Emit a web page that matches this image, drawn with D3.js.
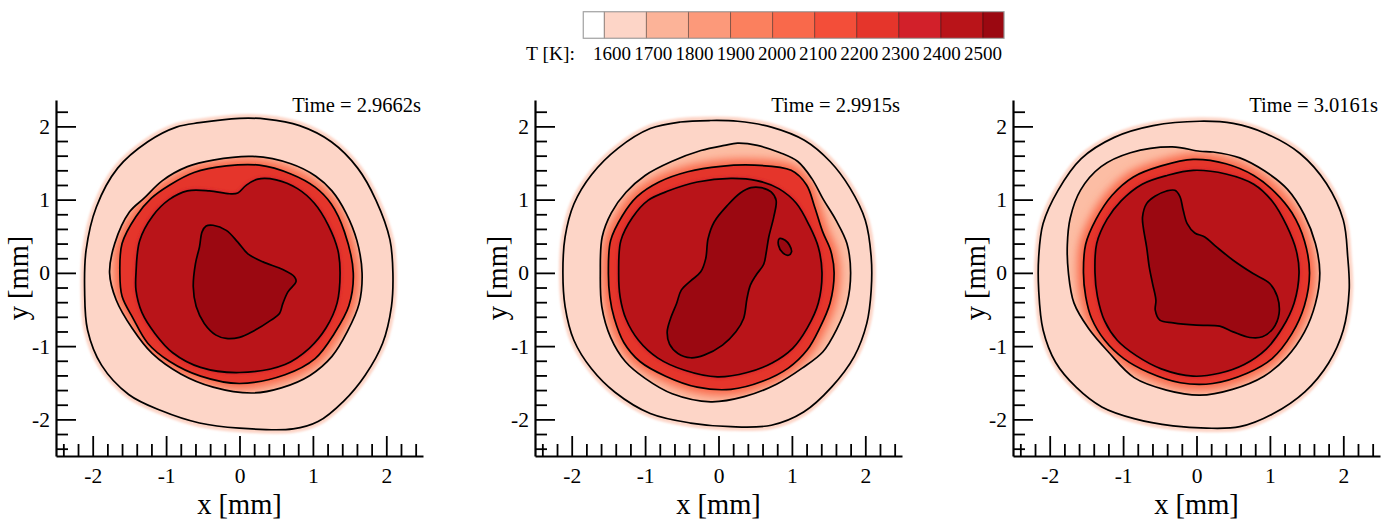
<!DOCTYPE html>
<html><head><meta charset="utf-8">
<script src="https://cdn.jsdelivr.net/npm/d3@7"></script>
<style>
body{margin:0;background:#fff;}
svg{display:block;font-family:"Liberation Serif","Times New Roman",serif;}
</style></head><body>
<svg id="chart" width="1394" height="525"></svg>
<script>
// ---------- data ----------
const levels = [1600,1700,1800,1900,2000,2100,2200,2300,2400,2500];
const levelColors = ["#ffffff","#fdd5c7","#fcb398","#fc997a","#fb805e","#f9694b","#f34e39","#e5352b","#d2202a","#b91419","#9b0811"];
const times = ["2.9662","2.9915","3.0161"];
const majorTicks = [-2,-1,0,1,2];
const minorTicks = [-2.4,-2.2,-1.8,-1.6,-1.4,-1.2,-0.8,-0.6,-0.4,-0.2,0.2,0.4,0.6,0.8,1.2,1.4,1.6,1.8,2.2,2.4];

// Panel 1 (Time = 2.9662s) contours, [x mm, y mm]
const p1_T1650 = [[-0.545,2.05],[0,2.11],[0.364,2.10],[0.818,2.01],[1.25,1.79],[1.61,1.43],[1.86,0.99],[2.05,0.45],[2.09,0],[2.07,-0.46],[1.95,-0.96],[1.71,-1.40],[1.42,-1.75],[1.07,-2.03],[0.73,-2.13],[0,-2.12],[-0.545,-2.05],[-1.07,-1.88],[-1.51,-1.66],[-1.88,-1.26],[-2.07,-0.78],[-2.11,-0.24],[-2.09,0.31],[-1.95,0.90],[-1.66,1.43],[-1.25,1.79],[-0.86,1.99]];
const p1_T1700 = [[-1.77,0],[-1.70,0.40],[-1.50,0.83],[-1.30,1.02],[-1.05,1.26],[-0.71,1.45],[-0.36,1.54],[0.18,1.59],[0.70,1.49],[1.04,1.32],[1.26,1.12],[1.45,0.82],[1.60,0.44],[1.67,0],[1.63,-0.42],[1.47,-0.80],[1.26,-1.14],[0.96,-1.40],[0.57,-1.57],[0.18,-1.64],[-0.36,-1.56],[-0.80,-1.38],[-1.19,-1.10],[-1.46,-0.76],[-1.68,-0.37]];
const p1_T2200 = [[-1.63,0],[-1.60,0.40],[-1.41,0.77],[-1.2,1.02],[-0.95,1.2],[-0.62,1.37],[-0.18,1.46],[0.27,1.47],[0.70,1.35],[1.03,1.17],[1.25,0.94],[1.43,0.56],[1.55,0],[1.49,-0.45],[1.29,-0.83],[1.03,-1.17],[0.62,-1.39],[0,-1.51],[-0.53,-1.41],[-0.95,-1.21],[-1.25,-0.96],[-1.45,-0.62],[-1.60,-0.32]];
const p1_T2400 = [[-1.41,0],[-1.36,0.44],[-1.18,0.78],[-0.96,1.0],[-0.71,1.12],[-0.41,1.12],[-0.136,1.08],[-0.023,1.09],[0.09,1.195],[0.25,1.28],[0.5,1.27],[0.79,1.15],[1.02,0.95],[1.21,0.65],[1.34,0.31],[1.37,0],[1.33,-0.41],[1.18,-0.75],[0.95,-1.03],[0.62,-1.25],[0,-1.36],[-0.53,-1.29],[-0.91,-1.09],[-1.15,-0.83],[-1.33,-0.54],[-1.41,-0.24]];
const p1_T2500 = [[-0.51,0.56],[-0.455,0.64],[-0.36,0.65],[-0.18,0.58],[-0.023,0.42],[0.114,0.26],[0.32,0.15],[0.59,0.045],[0.75,-0.055],[0.77,-0.12],[0.66,-0.26],[0.59,-0.42],[0.545,-0.555],[0.43,-0.645],[0.18,-0.80],[0,-0.88],[-0.18,-0.895],[-0.32,-0.85],[-0.48,-0.69],[-0.59,-0.46],[-0.63,-0.19],[-0.60,0.127],[-0.545,0.355]];

// Panel 2 (Time = 2.9915s)
const p2_T1650 = [[-0.105,2.08],[0.26,2.07],[0.72,1.99],[1.17,1.81],[1.52,1.52],[1.79,1.16],[2.0,0.72],[2.08,0.22],[2.08,-0.24],[2.02,-0.69],[1.85,-1.14],[1.54,-1.56],[1.16,-1.90],[0.72,-2.08],[0.17,-2.10],[-0.38,-2.05],[-0.93,-1.92],[-1.41,-1.63],[-1.73,-1.31],[-1.97,-0.92],[-2.09,-0.46],[-2.12,0],[-2.09,0.49],[-1.97,0.94],[-1.73,1.34],[-1.37,1.70],[-0.93,1.97],[-0.52,2.06]];
const p2_T1700 = [[-1.61,0],[-1.585,0.49],[-1.46,0.82],[-1.26,1.10],[-1.0,1.33],[-0.64,1.52],[-0.24,1.67],[0.08,1.74],[0.26,1.77],[0.53,1.74],[0.84,1.64],[1.08,1.52],[1.27,1.29],[1.43,1.0],[1.60,0.72],[1.75,0.40],[1.80,0],[1.75,-0.42],[1.61,-0.77],[1.42,-1.08],[1.14,-1.30],[0.79,-1.52],[0.35,-1.69],[-0.105,-1.76],[-0.63,-1.65],[-1.0,-1.44],[-1.27,-1.21],[-1.47,-0.88],[-1.59,-0.46]];
const p2_T2200 = [[-1.50,0],[-1.47,0.44],[-1.31,0.78],[-1.11,1.04],[-0.81,1.24],[-0.42,1.38],[0.032,1.455],[0.49,1.47],[0.99,1.40],[1.20,1.20],[1.31,0.90],[1.42,0.56],[1.53,0.30],[1.575,0],[1.52,-0.41],[1.38,-0.75],[1.21,-1.05],[0.95,-1.30],[0.60,-1.48],[0.17,-1.59],[-0.29,-1.56],[-0.72,-1.41],[-1.07,-1.21],[-1.29,-0.95],[-1.42,-0.62],[-1.48,-0.33]];
const p2_T2400 = [[-1.36,0],[-1.33,0.44],[-1.17,0.76],[-0.96,0.99],[-0.68,1.12],[-0.29,1.24],[0.17,1.29],[0.52,1.26],[0.82,1.15],[1.06,0.95],[1.24,0.64],[1.36,0.35],[1.41,0],[1.36,-0.41],[1.21,-0.75],[1.01,-1.03],[0.73,-1.23],[0.39,-1.36],[-0.014,-1.42],[-0.46,-1.33],[-0.83,-1.16],[-1.09,-0.92],[-1.26,-0.63],[-1.34,-0.33]];
const p2_T2500 = [[0.443,1.164],[0.58,1.164],[0.717,1.105],[0.785,0.99],[0.753,0.764],[0.685,0.49],[0.648,0.264],[0.616,0.118],[0.511,-0.032],[0.434,-0.168],[0.388,-0.35],[0.342,-0.623],[0.237,-0.805],[0.055,-0.986],[-0.196,-1.123],[-0.379,-1.159],[-0.553,-1.1],[-0.667,-0.973],[-0.699,-0.805],[-0.653,-0.623],[-0.571,-0.418],[-0.507,-0.236],[-0.379,-0.109],[-0.242,0.014],[-0.174,0.195],[-0.142,0.468],[-0.059,0.695],[0.123,0.923],[0.297,1.09]];
const p2_T2500b = [[0.831,0.468],[0.909,0.445],[0.968,0.377],[0.995,0.286],[0.954,0.241],[0.877,0.273],[0.817,0.377]];

// Panel 3 (Time = 3.0161s)
const p3_T1650 = [[0.045,2.07],[0.50,2.04],[0.95,1.90],[1.41,1.63],[1.77,1.22],[2.0,0.72],[2.06,0.22],[2.08,-0.236],[2.0,-0.78],[1.80,-1.23],[1.48,-1.62],[1.03,-1.93],[0.59,-2.10],[0.136,-2.12],[-0.32,-2.09],[-0.85,-1.99],[-1.29,-1.83],[-1.64,-1.56],[-1.92,-1.22],[-2.09,-0.78],[-2.15,-0.236],[-2.15,0.218],[-2.09,0.673],[-1.89,1.12],[-1.57,1.56],[-1.12,1.85],[-0.59,2.01]];
const p3_T1700 = [[-1.745,0],[-1.76,0.38],[-1.72,0.75],[-1.58,1.13],[-1.30,1.45],[-0.90,1.64],[-0.33,1.72],[0.045,1.66],[0.227,1.65],[0.59,1.57],[0.93,1.39],[1.24,1.14],[1.47,0.79],[1.62,0.40],[1.68,0],[1.62,-0.42],[1.47,-0.81],[1.23,-1.15],[0.92,-1.41],[0.49,-1.59],[0.045,-1.67],[-0.41,-1.60],[-0.85,-1.43],[-1.20,-1.08],[-1.47,-0.76],[-1.67,-0.41]];
const p3_T2200 = [[-1.54,0],[-1.51,0.39],[-1.37,0.73],[-1.15,1.06],[-0.86,1.31],[-0.48,1.46],[-0.045,1.55],[0.40,1.49],[0.78,1.33],[1.07,1.10],[1.30,0.82],[1.47,0.44],[1.54,0],[1.47,-0.45],[1.30,-0.83],[1.03,-1.17],[0.69,-1.37],[0.22,-1.51],[-0.22,-1.50],[-0.65,-1.36],[-0.99,-1.17],[-1.25,-0.92],[-1.43,-0.62],[-1.51,-0.32]];
const p3_T2400 = [[-1.383,0],[-1.36,0.40],[-1.22,0.73],[-1.03,0.98],[-0.74,1.21],[-0.40,1.33],[-0.045,1.40],[0.40,1.35],[0.78,1.21],[1.03,0.98],[1.23,0.64],[1.36,0.30],[1.397,0],[1.33,-0.41],[1.17,-0.75],[0.95,-1.04],[0.65,-1.25],[0.31,-1.37],[-0.045,-1.41],[-0.48,-1.31],[-0.82,-1.13],[-1.08,-0.92],[-1.25,-0.66],[-1.35,-0.32]];
const p3_T2500 = [[-0.68,0.945],[-0.567,1.045],[-0.408,1.118],[-0.295,1.127],[-0.227,1.045],[-0.181,0.855],[-0.127,0.673],[-0.023,0.545],[0.113,0.491],[0.272,0.355],[0.499,0.173],[0.771,-0.009],[0.998,-0.145],[1.102,-0.327],[1.125,-0.555],[1.043,-0.759],[0.898,-0.873],[0.726,-0.882],[0.499,-0.805],[0.317,-0.727],[0,-0.714],[-0.317,-0.682],[-0.499,-0.645],[-0.562,-0.509],[-0.553,-0.373],[-0.599,-0.145],[-0.644,0.082],[-0.68,0.355],[-0.726,0.627],[-0.735,0.764]];

const panels = [
  {time: times[0], outer: p1_T1650, ring: p1_T1700, mid: p1_T2200, hot: p1_T2400, cores: [p1_T2500]},
  {time: times[1], outer: p2_T1650, ring: p2_T1700, mid: p2_T2200, hot: p2_T2400, cores: [p2_T2500, p2_T2500b]},
  {time: times[2], outer: p3_T1650, ring: p3_T1700, mid: p3_T2200, hot: p3_T2400, cores: [p3_T2500]}
];

// ---------- layout ----------
const svg = d3.select("#chart");
const panelLeft = [56, 535, 1013];
const plotW = 367, yTopPx = 100, yBotPx = 456;
const defs = svg.append("defs");
[["blurEdge",1.1],["blurBand",4],["blurHot",1.5]].forEach(([id,s])=>{
  defs.append("filter").attr("id",id).attr("x","-20%").attr("y","-20%").attr("width","140%").attr("height","140%")
    .append("feGaussianBlur").attr("stdDeviation",s);
});

panels.forEach((p,i)=>{
  const x = d3.scaleLinear().domain([-2.5,2.5]).range([panelLeft[i], panelLeft[i]+plotW]);
  const y = d3.scaleLinear().domain([-2.5,2.36]).range([yBotPx, yTopPx]);
  const line = d3.line().x(d=>x(d[0])).y(d=>y(d[1])).curve(d3.curveCatmullRomClosed.alpha(0.5));
  const g = svg.append("g");

  defs.append("clipPath").attr("id","clipRing"+i).append("path").attr("d", line(p.ring));
  defs.append("clipPath").attr("id","clipMid"+i).append("path").attr("d", line(p.mid));

  // outer pink disk with soft edge
  g.append("path").attr("d", line(p.outer)).attr("fill", levelColors[1])
    .attr("stroke", levelColors[1]).attr("stroke-width", 8).attr("stroke-linejoin","round").attr("filter","url(#blurEdge)");
  g.append("path").attr("d", line(p.outer)).attr("fill", levelColors[1]);

  // gradient band 1700 -> 2200
  g.append("path").attr("d", line(p.ring)).attr("fill", "#fcbda4");
  const band = g.append("g").attr("clip-path","url(#clipRing"+i+")");
  band.append("path").attr("d", line(p.mid)).attr("fill", levelColors[6])
    .attr("stroke", levelColors[5]).attr("stroke-width", 12).attr("filter","url(#blurBand)");
  band.append("path").attr("d", line(p.mid)).attr("fill", levelColors[7]);

  // 2200 -> 2400 band
  const hotBand = g.append("g").attr("clip-path","url(#clipMid"+i+")");
  hotBand.append("path").attr("d", line(p.hot)).attr("fill", levelColors[8])
    .attr("stroke", levelColors[8]).attr("stroke-width", 3).attr("filter","url(#blurHot)");
  g.append("path").attr("d", line(p.hot)).attr("fill", levelColors[9]);

  p.cores.forEach(c=> g.append("path").attr("d", line(c)).attr("fill", levelColors[10]));

  // contour lines
  [p.outer, p.ring, p.mid, p.hot, ...p.cores].forEach(c=>{
    g.append("path").attr("d", line(c)).attr("fill","none").attr("stroke","#000")
      .attr("stroke-width",1.7).attr("stroke-linejoin","round");
  });

  // axes
  const fmt = d => String(d);
  const xAxis = svg.append("g").attr("transform",`translate(0,${yBotPx})`)
    .call(d3.axisBottom(x).tickValues(majorTicks).tickFormat(fmt).tickSizeInner(-20).tickSizeOuter(0).tickPadding(12));
  svg.append("g").attr("transform",`translate(0,${yBotPx})`)
    .call(d3.axisBottom(x).tickValues(minorTicks).tickFormat("").tickSizeInner(-12).tickSizeOuter(0))
    .select(".domain").remove();
  const yAxis = svg.append("g").attr("transform",`translate(${panelLeft[i]},0)`)
    .call(d3.axisLeft(y).tickValues(majorTicks).tickFormat(fmt).tickSizeInner(-20).tickSizeOuter(0).tickPadding(6));
  svg.append("g").attr("transform",`translate(${panelLeft[i]},0)`)
    .call(d3.axisLeft(y).tickValues(minorTicks.filter(v=>v<2.36)).tickFormat("").tickSizeInner(-12).tickSizeOuter(0))
    .select(".domain").remove();

  svg.selectAll(".tick line").attr("stroke","#000").attr("stroke-width",1.8);
  svg.selectAll(".domain").attr("stroke","#000").attr("stroke-width",2.2);
  [xAxis,yAxis].forEach(a=>a.selectAll("text").attr("font-family","Liberation Serif").attr("font-size",21.5).attr("fill","#000"));
  yAxis.selectAll("text").attr("dy","0.32em");

  svg.append("text").attr("x", x(0)).attr("y", 514).attr("text-anchor","middle")
    .attr("font-size",28.5).text("x [mm]");
  svg.append("text").attr("transform",`translate(${panelLeft[i]-28},${y(-0.07)}) rotate(-90)`)
    .attr("text-anchor","middle").attr("font-size",28.5).text("y [mm]");
  svg.append("text").attr("x", panelLeft[i]+plotW-2).attr("y", 112).attr("text-anchor","end")
    .attr("font-size",20.5).text("Time = " + p.time + "s");
});

// ---------- colorbar ----------
const cb = svg.append("g");
const cbX = d3.scaleLinear().domain([1550,2550]).range([583.3,1004]);
const cbLabelX = d3.scaleLinear().domain([levels[0], levels[levels.length-1]]).range([612,983]);
const bounds = [1550, ...levels, 2550];
levelColors.forEach((c,k)=>{
  cb.append("rect").attr("x", cbX(bounds[k])).attr("y", 11.7).attr("width", cbX(bounds[k+1])-cbX(bounds[k]))
    .attr("height", 26.6).attr("fill", c).attr("stroke","rgba(0,0,0,0.35)").attr("stroke-width",1);
});
cb.append("rect").attr("x", cbX(1550)).attr("y", 11.7).attr("width", cbX(2550)-cbX(1550)).attr("height",26.6)
  .attr("fill","none").attr("stroke","#aaa").attr("stroke-width",1);
cb.selectAll("text.lab").data(levels).join("text").attr("class","lab")
  .attr("x", d=>cbLabelX(d)).attr("y", 60).attr("text-anchor","middle").attr("font-size",19).text(d=>d);
cb.append("text").attr("x", 575).attr("y", 60).attr("text-anchor","end").attr("font-size",19.5).text("T [K]:");
</script>
</body></html>
